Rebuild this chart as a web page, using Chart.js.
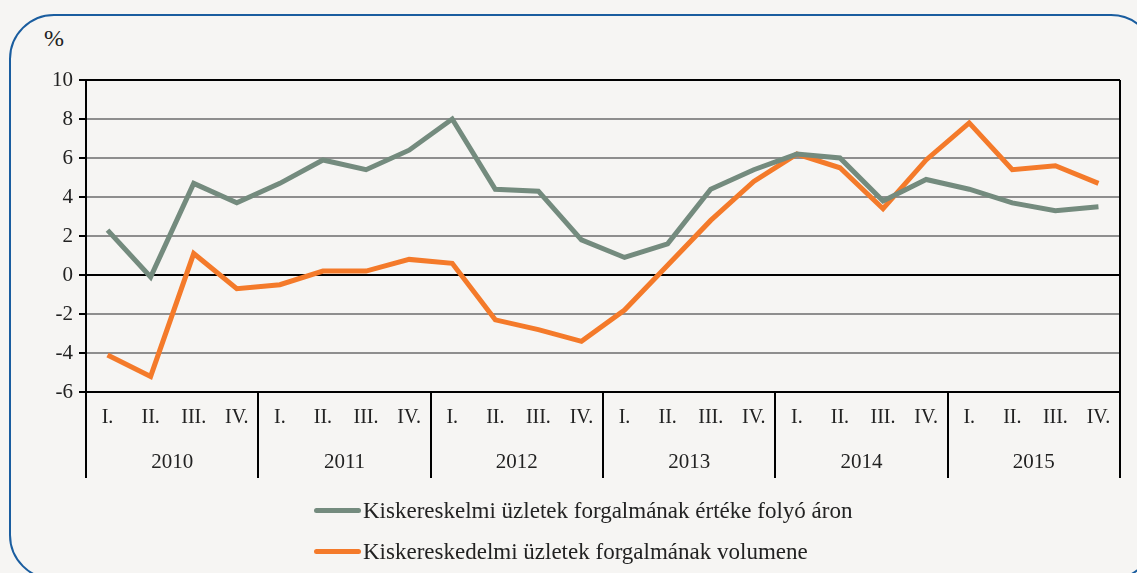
<!DOCTYPE html>
<html>
<head>
<meta charset="utf-8">
<script src="https://cdn.jsdelivr.net/npm/chart.js@4.4.1/dist/chart.umd.min.js"></script>
<style>
    html, body { margin: 0; padding: 0; background: #f6f5f3; overflow: hidden; }
    #wrap { position: relative; width: 1137px; height: 573px; overflow: hidden; }
    #box { position: absolute; left: 9px; top: 14px; width: 1143px; height: 562px; border: 2px solid #1a5d9f; border-radius: 45px; }
    #unit { position: absolute; left: 44px; top: 25px; font: 24px "Liberation Serif", serif; color: #222; }
    #legend { position: absolute; left: 314px; top: 490px; font: 23px "Liberation Serif", serif; color: #222; }
    #legend div { height: 41px; display: flex; align-items: center; }
    #legend span.ln { display: inline-block; width: 47px; height: 5px; border-radius: 3px; margin-right: 2px; }
    canvas { position: absolute; left: 0; top: 0; }
</style>
</head>
<body>
<div id="wrap">
    <div id="box"></div>
    <div id="unit">%</div>
    <canvas id="myChart" width="1137" height="573"></canvas>
    <div id="legend"></div>
</div>
<script>
// negyedévek és évek
var quarters = ['I.', 'II.', 'III.', 'IV.'];
var years = ['2010', '2011', '2012', '2013', '2014', '2015'];
// értékek leolvasva
var ertekFolyoAron = [2.3, -0.1, 4.7, 3.7, 4.7, 5.9, 5.4, 6.4, 8.0, 4.4, 4.3, 1.8,
    0.9, 1.6, 4.4, 5.4, 6.2, 6.0, 3.8, 4.9, 4.4, 3.7, 3.3, 3.5];
var volumen = [-4.1, -5.2, 1.1, -0.7, -0.5, 0.2, 0.2, 0.8, 0.6, -2.3, -2.8, -3.4,
    -1.8, 0.5, 2.8, 4.8, 6.2, 5.5, 3.4, 5.9, 7.8, 5.4, 5.6, 4.7];
var seriesNames = ['Kiskereskelmi üzletek forgalmának értéke folyó áron',
    'Kiskereskedelmi üzletek forgalmának volumene'];
var seriesColors = ['#748b7e', '#f47a2a'];

var labels = [];
years.forEach(function () {
    quarters.forEach(function (q) { labels.push(q); });
});

var FONT = '"Liberation Serif", serif';

// évek közötti elválasztó vonalak
var separators = {
    id: 'separators',
    afterDraw: function (chart) {
        var x = chart.scales.x, x2 = chart.scales.x2, area = chart.chartArea;
        var ctx = chart.ctx;
        var half = (x.getPixelForValue(1) - x.getPixelForValue(0)) / 2;
        ctx.save();
        ctx.strokeStyle = '#000';
        ctx.lineWidth = 2;
        for (var i = 0; i <= labels.length; i += 4) {
            var px = Math.round(x.getPixelForValue(Math.min(i, labels.length - 1)) + (i < labels.length ? -half : half));
            ctx.beginPath();
            ctx.moveTo(px, i === 0 || i === labels.length ? area.top : area.bottom);
            ctx.lineTo(px, x2.bottom);
            ctx.stroke();
        }
        ctx.restore();
    }
};

var ctx = document.getElementById('myChart').getContext('2d');
var myChart = new Chart(ctx, {
    type: 'line',
    data: {
        labels: labels,
        datasets: [{
            label: seriesNames[0],
            data: ertekFolyoAron,
            borderColor: seriesColors[0],
            backgroundColor: seriesColors[0],
            borderWidth: 5,
            pointRadius: 0,
            tension: 0
        }, {
            label: seriesNames[1],
            data: volumen,
            borderColor: seriesColors[1],
            backgroundColor: seriesColors[1],
            borderWidth: 5,
            pointRadius: 0,
            tension: 0
        }]
    },
    options: {
        responsive: false,
        animation: false,
        layout: { padding: { left: 30, top: 80, right: 17, bottom: 95 } },
        plugins: {
            legend: { display: false },
            tooltip: { enabled: false }
        },
        scales: {
            y: {
                min: -6,
                max: 10,
                afterFit: function (scale) { scale.width = 56; },
                ticks: { stepSize: 2, color: '#222', font: { family: FONT, size: 21 }, padding: 6 },
                grid: {
                    color: function (c) {
                        return (c.tick && (c.tick.value === 0 || c.tick.value === 10 || c.tick.value === -6)) ? '#000' : '#8e8e8e';
                    },
                    lineWidth: 2,
                    tickColor: '#000',
                    tickLength: 7
                },
                border: { color: '#000', width: 2 }
            },
            x: {
                offset: true,
                afterFit: function (scale) { scale.height = 45; },
                ticks: { color: '#222', font: { family: FONT, size: 20 }, padding: 14, maxRotation: 0, autoSkip: false },
                grid: { display: false, drawTicks: false },
                border: { color: '#000', width: 2 }
            },
            x2: {
                type: 'category',
                labels: years,
                position: 'bottom',
                offset: true,
                afterFit: function (scale) { scale.height = 41; },
                ticks: { color: '#222', font: { family: FONT, size: 21 }, padding: 13, maxRotation: 0 },
                grid: { display: false, drawTicks: false },
                border: { display: false }
            }
        }
    },
    plugins: [separators]
});

// jelmagyarázat
var legend = document.getElementById('legend');
myChart.data.datasets.forEach(function (ds) {
    var row = document.createElement('div');
    row.innerHTML = '<span class="ln" style="background:' + ds.borderColor + '"></span>' + ds.label;
    legend.appendChild(row);
});
</script>
</body>
</html>
